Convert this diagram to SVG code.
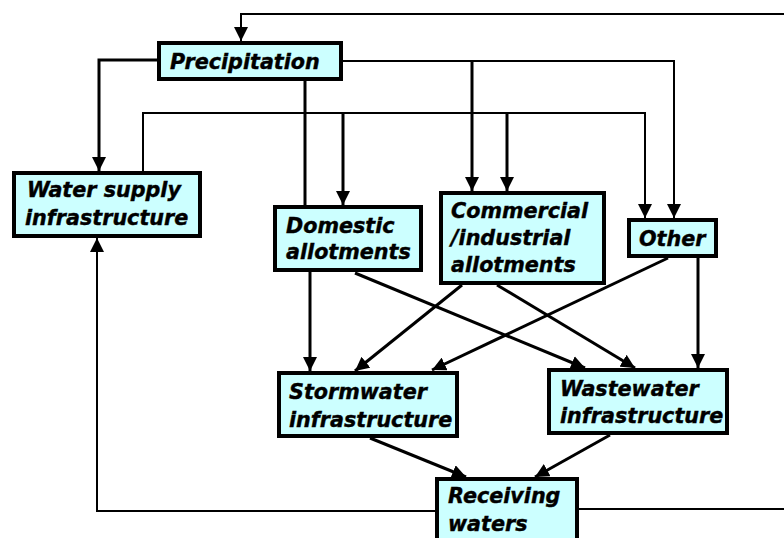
<svg xmlns="http://www.w3.org/2000/svg" width="784" height="538" viewBox="0 0 784 538">
  <style>
    .box rect { fill: #CCFFFF; stroke: #000; stroke-width: 4; }
    .box text { font-family: "DejaVu Sans", Verdana, sans-serif; font-size: 20.7px; font-weight: bold; font-style: italic; fill: #000; stroke: #000; stroke-width: 0.4; }
    .edge { fill: none; stroke: #000; stroke-width: 3; stroke-linejoin: miter; }
    .thin { stroke-width: 2; }
    .arr { marker-end: url(#ah); }
  </style>
  <defs>
    <marker id="ah" markerUnits="userSpaceOnUse" markerWidth="14" markerHeight="14" viewBox="0 0 14 14" refX="14" refY="7" orient="auto">
      <path d="M0,0 L14,7 L0,14 z" fill="#000"/>
    </marker>
  </defs>
  <rect width="784" height="538" fill="#fff"/>

  <g id="connectors">
    <!-- feedback loop from receiving waters back to precipitation -->
    <path class="edge thin" d="M579,509 L790,509"/>
    <path class="edge thin arr" d="M790,14 L241,14 L241,41"/>
    <!-- receiving waters back to water supply -->
    <path class="edge thin arr" d="M435,511 L97,511 L97,238"/>
    <!-- precipitation outputs -->
    <path class="edge arr" d="M157,60 L99,60 L99,171"/>
    <path class="edge thin arr" d="M343,61 L674,61 L674,218"/>
    <path class="edge arr" d="M472,61 L472,191"/>
    <path class="edge" d="M305,81 L305,205"/>
    <!-- water supply distribution -->
    <path class="edge thin arr" d="M143,171 L143,113 L645,113 L645,218"/>
    <path class="edge arr" d="M343,113 L343,205"/>
    <path class="edge arr" d="M507,113 L507,191"/>
    <!-- allotments to infrastructure -->
    <path class="edge arr" d="M310,272 L310,371"/>
    <path class="edge arr" d="M462,285 L355,371"/>
    <path class="edge arr" d="M668,258 L432,370"/>
    <path class="edge arr" d="M355,273 L585,368"/>
    <path class="edge arr" d="M497,285 L635,368"/>
    <path class="edge arr" d="M698,258 L698,368"/>
    <!-- infrastructure to receiving waters -->
    <path class="edge arr" d="M370,438 L466,477"/>
    <path class="edge arr" d="M610,435 L535,477"/>
  </g>

  <g id="precipitation" class="box">
    <rect x="159" y="43" width="182" height="36"/>
    <text x="170" y="69">Precipitation</text>
  </g>
  <g id="water-supply" class="box">
    <rect x="14" y="173" width="186" height="63"/>
    <text x="27" y="197">Water supply</text>
    <text x="25" y="225">infrastructure</text>
  </g>
  <g id="domestic" class="box">
    <rect x="275" y="207" width="146" height="63"/>
    <text x="286" y="233">Domestic</text>
    <text x="286" y="259">allotments</text>
  </g>
  <g id="commercial" class="box">
    <rect x="441" y="193" width="163" height="90"/>
    <text x="451" y="218">Commercial</text>
    <text x="451" y="245">/industrial</text>
    <text x="451" y="272">allotments</text>
  </g>
  <g id="other" class="box">
    <rect x="629" y="220" width="87" height="36"/>
    <text x="639" y="246">Other</text>
  </g>
  <g id="stormwater" class="box">
    <rect x="279" y="373" width="178" height="63"/>
    <text x="289" y="399">Stormwater</text>
    <text x="289" y="427">infrastructure</text>
  </g>
  <g id="wastewater" class="box">
    <rect x="549" y="370" width="178" height="63"/>
    <text x="560" y="396">Wastewater</text>
    <text x="560" y="423">infrastructure</text>
  </g>
  <g id="receiving" class="box">
    <rect x="437" y="479" width="140" height="80"/>
    <text x="448" y="503">Receiving</text>
    <text x="448" y="531">waters</text>
  </g>
</svg>
